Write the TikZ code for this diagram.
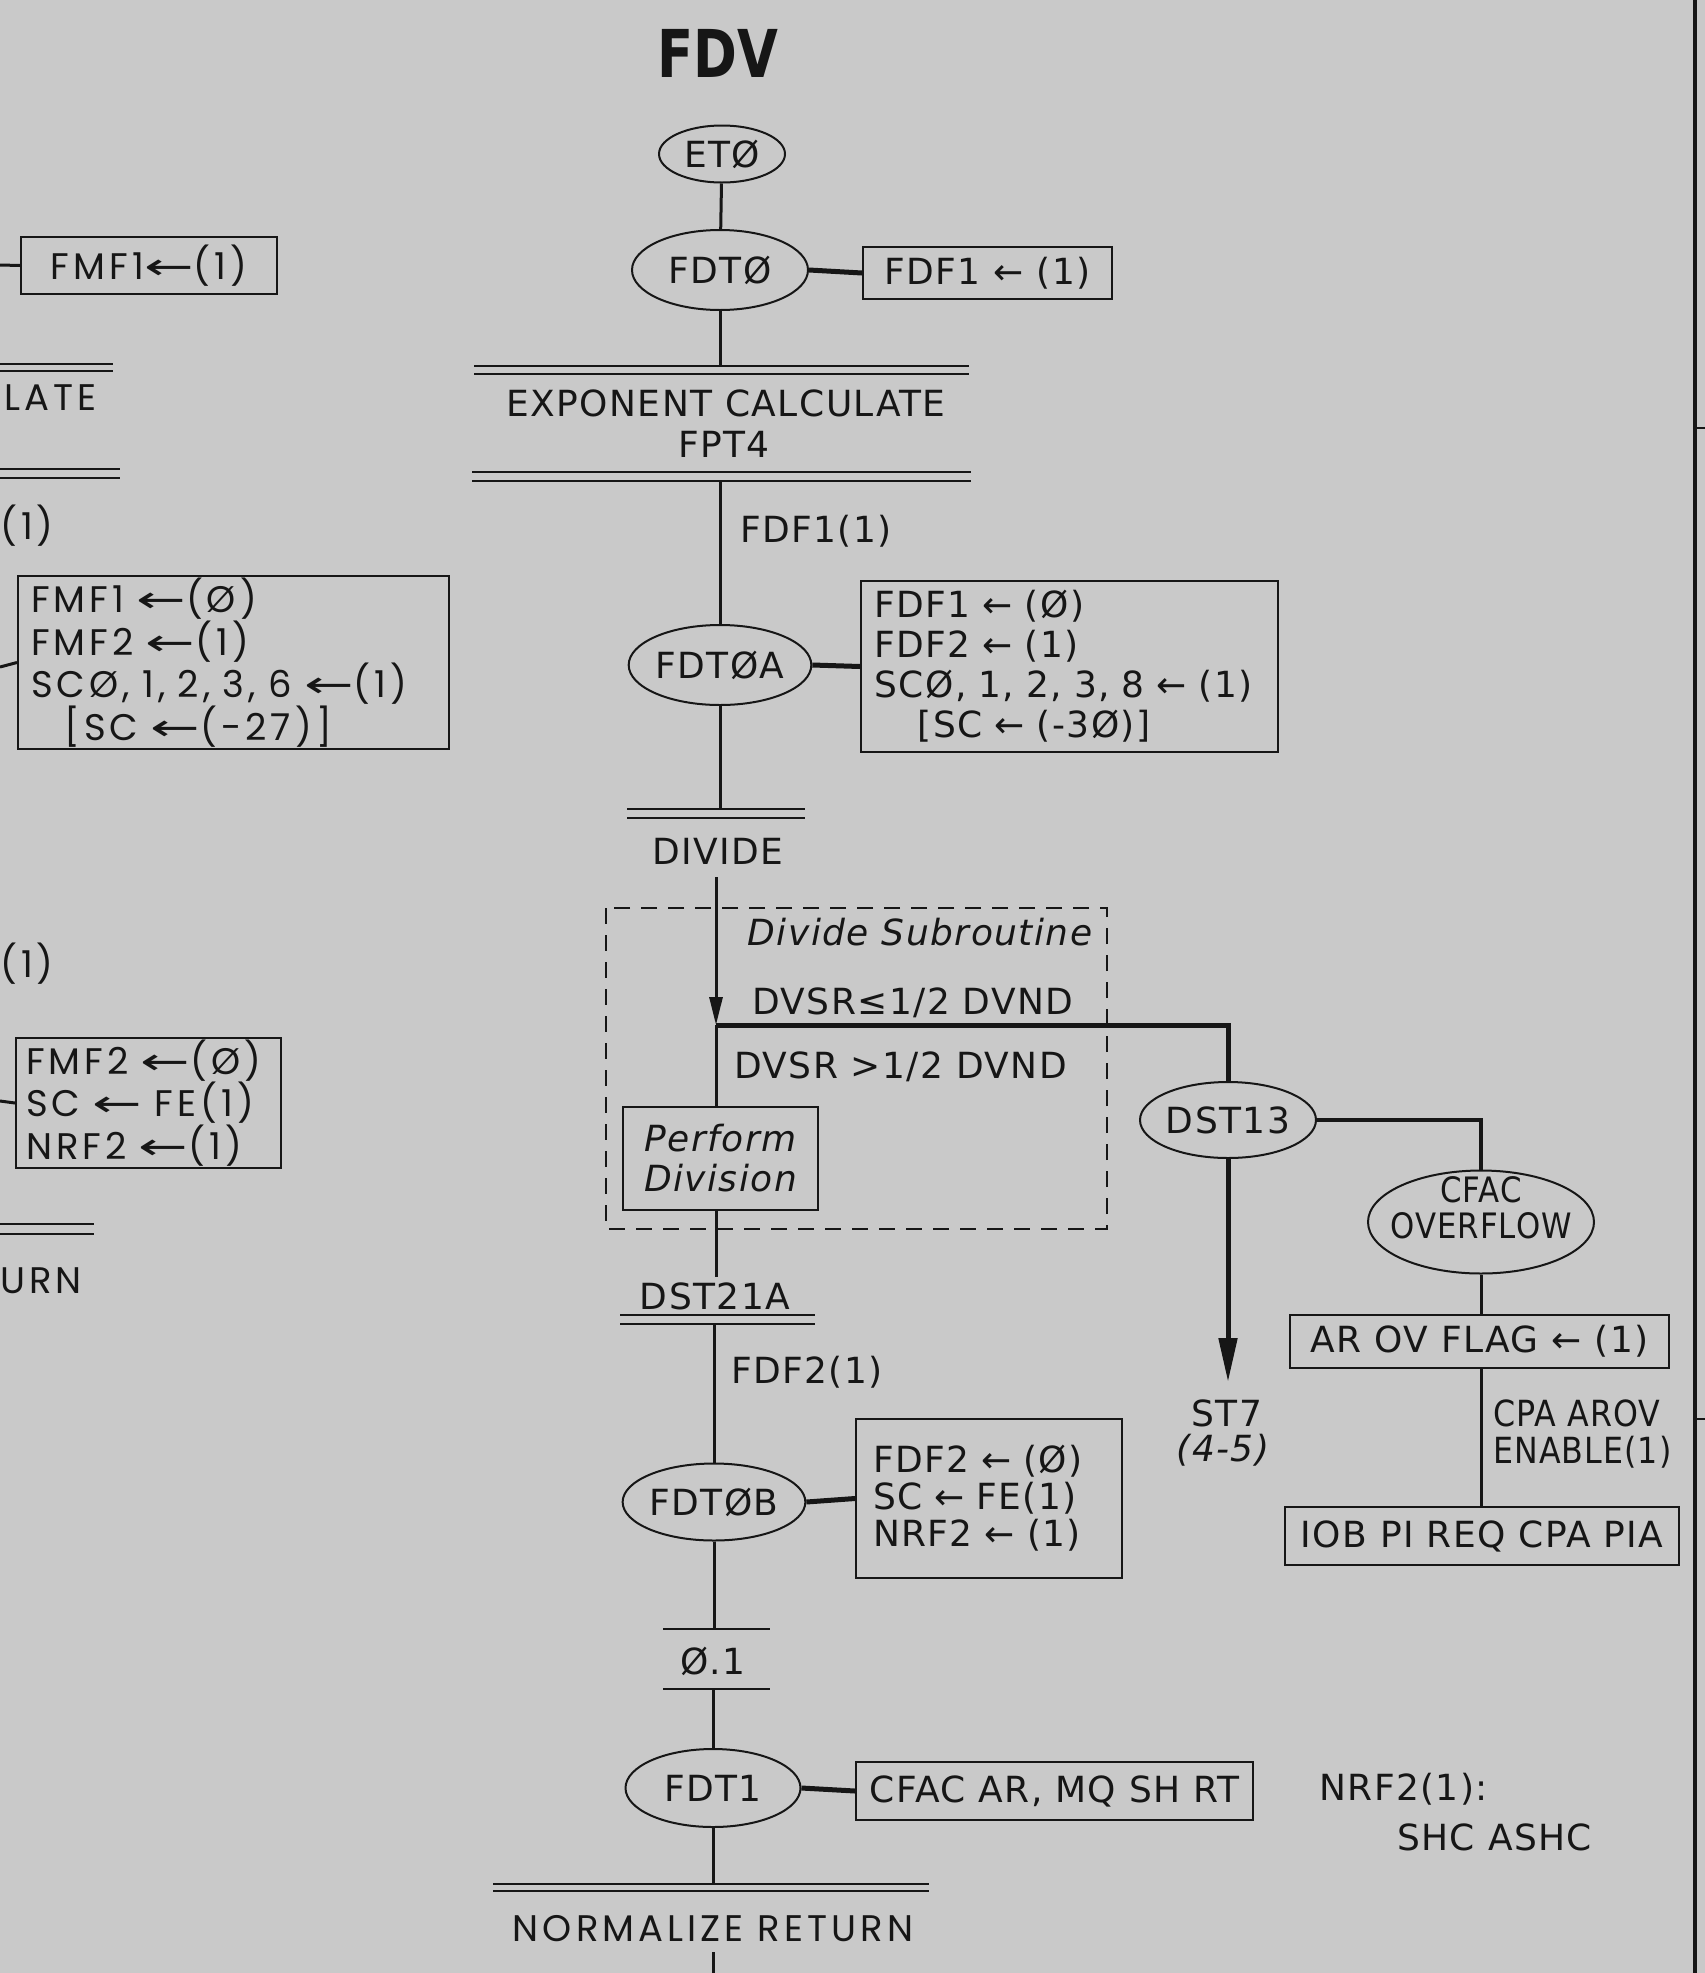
\documentclass[tikz,border=0pt]{standalone}
\usepackage{fontspec}
\usepackage{graphicx}
\setmainfont[LetterSpace=4]{DejaVu Sans}
\newfontfamily\ttlfont[FakeStretch=0.8]{DejaVu Sans}
\newfontfamily\widefont[LetterSpace=11]{Poppins}
\newfontfamily\condfont[FakeStretch=0.88,LetterSpace=3]{DejaVu Sans}
\newfontfamily\arrfont{DejaVu Sans}
\usetikzlibrary{shapes.geometric,arrows.meta}
\definecolor{paper}{RGB}{201,201,201}
\definecolor{ink}{RGB}{22,22,22}
\newcommand\msz{\fontsize{36}{40}\selectfont}
\newcommand\wsz{\widefont\fontsize{37}{40}\selectfont}
\newcommand\myarr{{\arrfont\scalebox{1.6}[1]{←}}}
\tikzset{
 txt/.style={font=\msz, text=ink, inner sep=0pt},
 wtxt/.style={font=\wsz, text=ink, inner sep=0pt},
 oval/.style={ellipse, draw=ink, line width=2pt, inner sep=0pt, font=\msz, text=ink, align=center},
 rbox/.style={rectangle, draw=ink, line width=2pt, inner sep=0pt, font=\msz, text=ink, align=left},
 wbox/.style={rbox, font=\wsz},
 flow/.style={draw=ink, line width=3pt},
 heavy/.style={draw=ink, line width=5pt},
 bar/.style={draw=ink, line width=2.5pt},
 dashbox/.style={draw=ink, line width=2pt, dash pattern=on 16pt off 11pt},
 tip/.style={-{Triangle[length=28pt,width=13pt]}},
 bigtip/.style={-{Triangle[length=44pt,width=18pt]}},
}
\begin{document}
\begin{tikzpicture}[x=1pt,y=-1pt]
\fill[paper] (0,0) rectangle (1705,1973);
\useasboundingbox (0,0) rectangle (1705,1973);

% right border
\draw[ink, line width=4pt] (1695,0) -- (1695,1973);
\draw[ink, line width=2pt] (1695,428) -- (1705,428) (1695,1419) -- (1705,1419);

% title
\node[text=ink, inner sep=0pt, font=\ttlfont\bfseries\fontsize{66}{70}\selectfont] (title) at (718,53) {FDV};

% ---- left partial column ----
\coordinate (ls1) at (0,265);
\node[wbox, minimum width=256pt, minimum height=57pt, align=center] (lbox1) at (149,265.5) {FMF1\myarr(1)};
\draw[flow] (ls1) -- (lbox1.west);
\draw[bar] (0,364) -- (113,364) (0,371) -- (113,371);
\node[wtxt, anchor=west] (late) at (4,398) {LATE};
\draw[bar] (0,469) -- (120,469) (0,478) -- (120,478);
\node[wtxt, anchor=west] (lone1) at (0,526) {(1)};
\coordinate (ls2) at (0,667);
\node[wbox, minimum width=431pt, minimum height=173pt, text width=405pt] (lbox2) at (233.5,662.5)
 {FMF1 \myarr(Ø)\\FMF2 \myarr(1)\\SCØ, 1, 2, 3, 6 \myarr(1)\\\hspace*{0.9em}[SC \myarr(-27)]};
\draw[flow] (ls2) -- (lbox2.west);
\node[wtxt, anchor=west] (lone2) at (0,964) {(1)};
\coordinate (ls3) at (0,1101);
\node[wbox, minimum width=265pt, minimum height=130pt, text width=245pt] (lbox3) at (148.5,1103)
 {FMF2 \myarr(Ø)\\SC \myarr\ FE(1)\\NRF2 \myarr(1)};
\draw[flow] (ls3) -- (lbox3.west);
\draw[bar] (0,1224) -- (94,1224) (0,1234) -- (94,1234);
\node[wtxt, anchor=west] (urn) at (0,1281) {URN};

% ---- main column ----
\node[oval, minimum width=126pt, minimum height=57pt] (et0) at (722,154) {ETØ};
\node[oval, minimum width=176pt, minimum height=80pt] (fdt0) at (720,270) {FDTØ};
\node[rbox, minimum width=249pt, minimum height=52pt, align=center] (box1) at (987.5,273) {FDF1 ← (1)};
\draw[flow] (et0) -- (fdt0);
\draw[heavy] (fdt0.east) -- (box1.west);
\coordinate (b1) at (720,366);
\draw[flow] (fdt0.south) -- (b1);
\draw[bar] (474,366) -- (969,366) (474,374) -- (969,374);
\node[txt] (expc) at (726,403) {EXPONENT CALCULATE};
\node[txt] (fpt4) at (724,444) {FPT4};
\draw[bar] (472,472) -- (971,472) (472,481) -- (971,481);
\coordinate (b2) at (720,481);
\node[txt, anchor=west] (lfdf1) at (740,531) {FDF1(1)};
\node[oval, minimum width=176pt, minimum height=80pt] (fdt0a) at (720,665) {FDTØA};
\draw[flow] (b2) -- (fdt0a.north);
\node[rbox, minimum width=417pt, minimum height=171pt, text width=390pt] (box2) at (1069.5,666.5)
 {FDF1 ← (Ø)\\FDF2 ← (1)\\SCØ, 1, 2, 3, 8 ← (1)\\\hspace*{1.2em}[SC ← (-3Ø)]};
\draw[heavy] (fdt0a.east) -- (box2.west);
\coordinate (b3) at (720,809);
\draw[flow] (fdt0a.south) -- (b3);
\draw[bar] (627,809) -- (805,809) (627,818) -- (805,818);
\node[txt] (divide) at (718,851) {DIVIDE};

% divide subroutine
\draw[dashbox] (606,908) rectangle (1107,1229);
\node[txt, font=\msz\itshape] (dsub) at (920,932) {Divide Subroutine};
\coordinate (d0) at (716,877);
\coordinate (j) at (716,1025);
\draw[flow, tip] (d0) -- (j);
\node[txt, anchor=west] (le) at (752,1003) {DVSR≤1/2 DVND};
\node[oval, minimum width=176pt, minimum height=76pt] (dst13) at (1228,1120) {DST13};
\draw[heavy] (j) -- (1228,1025) -- (dst13.north);
\node[txt, anchor=west] (gt) at (734,1067) {DVSR >1/2 DVND};
\node[rbox, minimum width=195pt, minimum height=103pt, align=center, font=\msz\itshape] (pdiv) at (720.5,1158.5) {Perform\\Division};
\draw[flow] (j) -- (j |- pdiv.north);
\coordinate (d1) at (716,1277);
\draw[flow] (pdiv.south -| j) -- (d1);
\node[txt] (dst21a) at (715,1296) {DST21A};
\draw[bar] (620,1315) -- (815,1315) (620,1324) -- (815,1324);
\coordinate (b4) at (714,1324);
\node[txt, anchor=west] (lfdf2) at (731,1372) {FDF2(1)};
\node[oval, minimum width=175pt, minimum height=77pt] (fdt0b) at (714,1502) {FDTØB};
\draw[flow] (b4) -- (fdt0b.north);
\node[rbox, minimum width=266pt, minimum height=159pt, text width=232pt, font=\fontsize{36}{37}\selectfont] (box3) at (989,1498.5)
 {FDF2 ← (Ø)\\SC ← FE(1)\\NRF2 ← (1)};
\draw[heavy] (fdt0b.east) -- (box3.west);
\coordinate (s1) at (714,1629);
\draw[flow] (fdt0b.south) -- (s1);
\draw[bar] (663,1629) -- (770,1629) (663,1689) -- (770,1689);
\node[txt] (o1) at (713,1661) {Ø.1};
\coordinate (s2) at (713,1689);
\node[oval, minimum width=175pt, minimum height=78pt] (fdt1) at (713,1788) {FDT1};
\draw[flow] (s2) -- (fdt1.north);
\node[rbox, minimum width=397pt, minimum height=58pt, align=center] (box4) at (1054.5,1791) {CFAC AR, MQ SH RT};
\draw[heavy] (fdt1.east) -- (box4.west);
\coordinate (b5) at (713,1884);
\draw[flow] (fdt1.south) -- (b5);
\draw[bar] (493,1884) -- (929,1884) (493,1891) -- (929,1891);
\node[wtxt] (normret) at (713,1929) {NORMALIZE RETURN};
\coordinate (e0) at (713,1952);
\coordinate (e1) at (713,1973);
\draw[flow] (e0) -- (e1);

% ---- right branch ----
\coordinate (st7tip) at (1228,1382);
\draw[heavy, bigtip] (dst13.south) -- (st7tip);
\node[txt] (st7) at (1227,1413) {ST7};
\node[txt, font=\msz\itshape] (st7p) at (1223,1450) {(4-5)};
\node[oval, minimum width=226pt, minimum height=103pt] (cfac) at (1481,1222) {};
\node[txt, align=center, font=\condfont\fontsize{35}{36}\selectfont] (cfact) at (1481,1208) {CFAC\\OVERFLOW};
\draw[flow, line width=4pt] (dst13.east) -- (1481,1120) -- (cfac.north);
\node[rbox, minimum width=379pt, minimum height=53pt, align=center] (arov) at (1479.5,1341.5) {AR OV FLAG ← (1)};
\draw[flow] (cfac.south) -- (cfac.south |- arov.north);
\node[rbox, minimum width=394pt, minimum height=58pt, align=center] (iob) at (1482,1536) {IOB PI REQ CPA PIA};
\draw[flow] (arov.south -| cfac.south) -- (cfac.south |- iob.north);
\node[txt, anchor=north west, align=left, font=\condfont\fontsize{36}{37}\selectfont] (cpa) at (1493,1400) {CPA AROV\\ENABLE(1)};
\node[txt, anchor=west] (nrf2) at (1319,1789) {NRF2(1):};
\node[txt, anchor=west] (shc) at (1397,1837) {SHC ASHC};
\end{tikzpicture}
\end{document}
